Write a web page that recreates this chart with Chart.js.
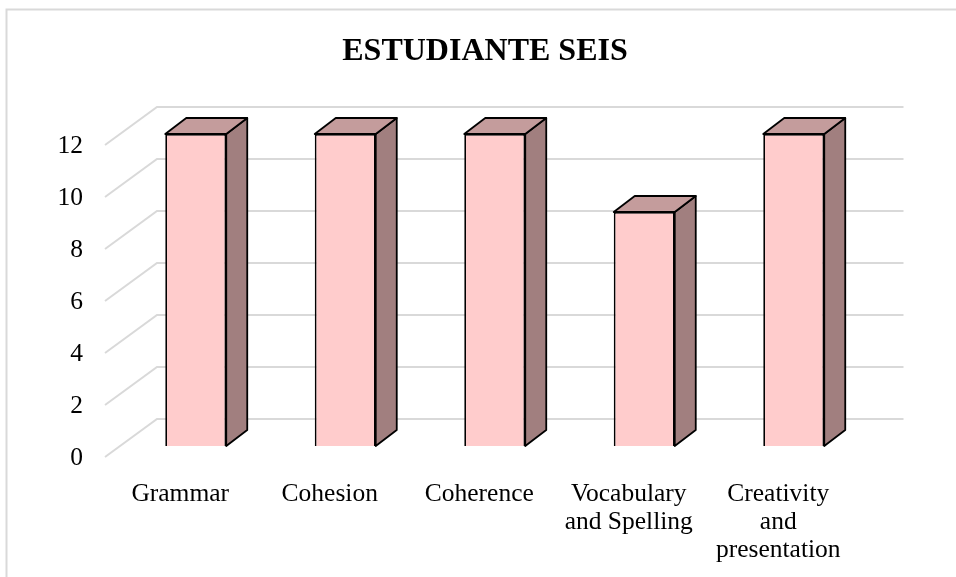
<!DOCTYPE html>
<html>
<head>
<meta charset="utf-8">
<script src="https://cdn.jsdelivr.net/npm/chart.js@4/dist/chart.umd.min.js"></script>
<style>
  html, body { margin: 0; padding: 0; background: #fff; }
</style>
</head>
<body>
<canvas id="chart" width="956" height="577"></canvas>
<script>
const categories = [
  ['Grammar'],
  ['Cohesion'],
  ['Coherence'],
  ['Vocabulary', 'and Spelling'],
  ['Creativity', 'and', 'presentation'],
];
const scores = [12, 12, 12, 9, 12];
const yMin = 0;
const yMax = 12;
const yStep = 2;

const frontColor = '#ffcccc';
const sideColor = '#a17f7f';
const topColor = '#c49c9c';
const gridColor = '#d9d9d9';
const depth = { dx: 21, dy: -16 };

Chart.defaults.font.family = "'Liberation Serif', 'Times New Roman', serif";
Chart.defaults.color = '#000';

// draws the 3d floor/wall grid and the side + top faces of each bar
const threeDee = {
  id: 'threeDee',
  beforeDraw(chart) {
    const { ctx, width, height } = chart;
    ctx.save();
    ctx.fillStyle = '#fff';
    ctx.fillRect(0, 0, width, height);
    ctx.strokeStyle = gridColor;
    ctx.lineWidth = 2;
    ctx.strokeRect(6.5, 9.5, width, height);
    ctx.restore();
  },
  beforeDatasetsDraw(chart) {
    const { ctx, chartArea } = chart;
    const y = chart.scales.y;
    ctx.save();
    ctx.strokeStyle = gridColor;
    ctx.lineWidth = 2;
    y.ticks.forEach((t) => {
      const py = y.getPixelForValue(t.value);
      ctx.beginPath();
      ctx.moveTo(chartArea.left - 16, py + 11);
      ctx.lineTo(chartArea.left + 36, py - 27);
      ctx.lineTo(chartArea.right + 35, py - 27);
      ctx.stroke();
    });
    ctx.restore();
  },
  afterDatasetsDraw(chart) {
    const { ctx } = chart;
    const meta = chart.getDatasetMeta(0);
    ctx.save();
    ctx.strokeStyle = '#000';
    ctx.lineWidth = 1.8;
    ctx.lineJoin = 'round';
    meta.data.forEach((bar) => {
      const { x, y, base, width } = bar.getProps(['x', 'y', 'base', 'width'], true);
      const x0 = x - width / 2;
      const x1 = x + width / 2;

      ctx.beginPath();
      ctx.moveTo(x1, y);
      ctx.lineTo(x1 + depth.dx, y + depth.dy);
      ctx.lineTo(x1 + depth.dx, base + depth.dy);
      ctx.lineTo(x1, base);
      ctx.closePath();
      ctx.fillStyle = sideColor;
      ctx.fill();
      ctx.stroke();

      ctx.beginPath();
      ctx.moveTo(x0, y);
      ctx.lineTo(x0 + depth.dx, y + depth.dy);
      ctx.lineTo(x1 + depth.dx, y + depth.dy);
      ctx.lineTo(x1, y);
      ctx.closePath();
      ctx.fillStyle = topColor;
      ctx.fill();
      ctx.stroke();
    });
    ctx.restore();
  },
};

const labelFont = { size: 25.5, lineHeight: 1.1 };

new Chart(document.getElementById('chart'), {
  type: 'bar',
  data: {
    labels: categories,
    datasets: [{
      label: 'ESTUDIANTE SEIS',
      data: scores,
      backgroundColor: frontColor,
      borderColor: '#000',
      borderWidth: 1.8,
      categoryPercentage: 1,
      barPercentage: 0.408,
    }],
  },
  options: {
    responsive: false,
    animation: false,
    devicePixelRatio: 1,
    layout: { padding: { left: 19, right: 5, top: 0, bottom: 0 } },
    plugins: {
      legend: { display: false },
      tooltip: { enabled: false },
      title: {
        display: true,
        text: 'ESTUDIANTE SEIS',
        color: '#000',
        font: { size: 32, weight: 'bold', lineHeight: 1.2 },
        padding: { top: 33, bottom: 62.6 },
      },
    },
    scales: {
      x: {
        grid: { display: false },
        border: { display: false },
        ticks: {
          font: labelFont,
          color: '#000',
          padding: 26,
          labelOffset: -15.5,
          maxRotation: 0,
          autoSkip: false,
        },
        afterFit: (scale) => { scale.height = 131; },
      },
      y: {
        min: yMin,
        max: yMax,
        grid: { display: false, drawTicks: false },
        border: { display: false },
        ticks: {
          stepSize: yStep,
          font: labelFont,
          color: '#000',
          padding: 38,
          labelOffset: 12,
        },
        afterFit: (scale) => { scale.width = 102; },
      },
      // empty right-hand axis, only reserves the space right of the wall
      yRight: {
        position: 'right',
        grid: { display: false, drawTicks: false },
        border: { display: false },
        ticks: { display: false },
        afterFit: (scale) => { scale.width = 82.5; },
      },
    },
  },
  plugins: [threeDee],
});
</script>
</body>
</html>
